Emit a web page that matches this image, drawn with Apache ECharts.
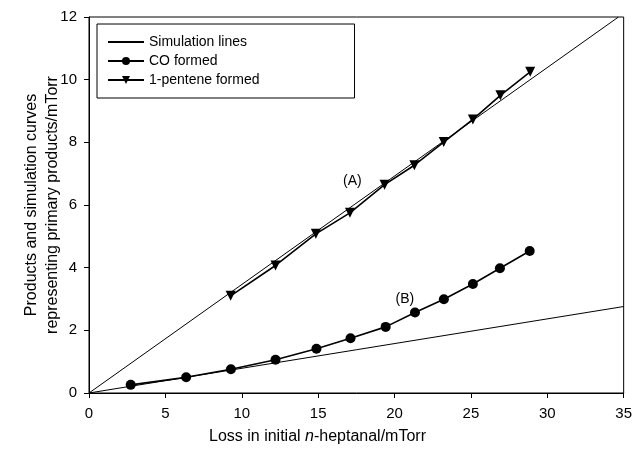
<!DOCTYPE html>
<html>
<head>
<meta charset="utf-8">
<script src="https://cdn.jsdelivr.net/npm/echarts@6/dist/echarts.min.js"></script>
<style>
  html, body { margin: 0; padding: 0; background: #fff; }
  #chart { width: 635px; height: 453px; }
</style>
</head>
<body>
<div id="chart"></div>
<script>
// loss in initial n-heptanal (mTorr) and products formed (mTorr)
var coLoss = [2.73, 6.36, 9.29, 12.21, 14.89, 17.12, 19.42, 21.34, 23.23, 25.13, 26.9, 28.85];
var coFormed = [0.26, 0.50, 0.76, 1.06, 1.41, 1.75, 2.11, 2.57, 2.99, 3.48, 3.98, 4.53];
var penteneLoss = [9.27, 12.21, 14.85, 17.08, 19.35, 21.3, 23.22, 25.13, 26.93, 28.88];
var penteneFormed = [3.10, 4.07, 5.08, 5.75, 6.65, 7.27, 8.01, 8.73, 9.50, 10.25];
// simulation lines (A) and (B), end points
var simA = [[0, 0], [34.66, 12]];
var simB = [[0, 0], [35, 2.76]];
var xTicks = [0, 5, 10, 15, 20, 25, 30, 35];
var yTicks = [0, 2, 4, 6, 8, 10, 12];

function pairs(xs, ys) {
  return xs.map(function (x, i) { return [x, ys[i]]; });
}

var font = 'Liberation Sans, Arial, sans-serif';

// text tag sitting at a data coordinate
function tag(text, coord) {
  return {
    symbol: 'circle', symbolSize: 1,
    itemStyle: { color: 'rgba(0,0,0,0)' },
    label: { show: true, position: 'inside', formatter: text, color: '#000', fontSize: 14, fontFamily: font },
    data: [{ coord: coord }]
  };
}

var chart = echarts.init(document.getElementById('chart'));

chart.setOption({
  animation: false,
  backgroundColor: '#fff',
  textStyle: { fontFamily: font, color: '#000' },
  grid: {
    left: 89, right: 9, top: 17, bottom: 60,
    show: true, borderColor: '#000', borderWidth: 1
  },
  legend: {
    orient: 'vertical',
    left: 97, top: 24,
    padding: [11, 95, 11, 10],
    borderColor: '#000', borderWidth: 1,
    itemWidth: 36, itemHeight: 10, itemGap: 5,
    textStyle: { fontFamily: font, fontSize: 14, color: '#000' },
    data: [
      { name: 'Simulation lines', itemStyle: { opacity: 0 } },
      'CO formed',
      '1-pentene formed'
    ]
  },
  xAxis: {
    type: 'value',
    min: xTicks[0], max: xTicks[xTicks.length - 1], interval: 5,
    splitLine: { show: false },
    axisLine: { lineStyle: { color: '#000', width: 1 } },
    axisTick: { show: true, length: 5, lineStyle: { color: '#000' } },
    axisLabel: { color: '#000', fontSize: 15, margin: 13, fontFamily: font }
  },
  yAxis: {
    type: 'value',
    min: yTicks[0], max: yTicks[yTicks.length - 1], interval: 2,
    splitLine: { show: false },
    axisLine: { show: true, lineStyle: { color: '#000', width: 1 } },
    axisTick: { show: true, length: 5, lineStyle: { color: '#000' } },
    axisLabel: { color: '#000', fontSize: 15, margin: 12, fontFamily: font }
  },
  graphic: [
    {
      type: 'text', left: 'center', top: 429,
      style: {
        text: '{a|Loss in initial }{i|n}{a|-heptanal/mTorr}',
        rich: {
          a: { fontFamily: font, fontSize: 16, fill: '#000' },
          i: { fontFamily: font, fontSize: 16, fontStyle: 'italic', fill: '#000' }
        }
      }
    },
    {
      type: 'text', x: 42, y: 205, rotation: Math.PI / 2,
      style: {
        text: 'Products and simulation curves\nrepresenting primary products/mTorr',
        fontFamily: font, fontSize: 16, lineHeight: 21, fill: '#000',
        align: 'center', verticalAlign: 'middle'
      }
    }
  ],
  series: [
    {
      name: 'Simulation lines', type: 'line', data: simA,
      symbol: 'none', itemStyle: { color: '#000' },
      lineStyle: { color: '#000', width: 1 }, z: 1,
      markPoint: tag('(A)', [17.24, 6.77])
    },
    {
      name: 'Simulation lines', type: 'line', data: simB,
      symbol: 'none', itemStyle: { color: '#000' },
      lineStyle: { color: '#000', width: 1 }, z: 1,
      markPoint: tag('(B)', [20.68, 3.01])
    },
    {
      name: 'CO formed', type: 'line', data: pairs(coLoss, coFormed),
      symbol: 'circle', symbolSize: 10,
      itemStyle: { color: '#000' }, lineStyle: { color: '#000', width: 1.6 }, z: 3
    },
    {
      name: '1-pentene formed', type: 'line', data: pairs(penteneLoss, penteneFormed),
      symbol: 'triangle', symbolSize: 10, symbolRotate: 180,
      itemStyle: { color: '#000' }, lineStyle: { color: '#000', width: 1.6 }, z: 3
    }
  ]
});
</script>
</body>
</html>
